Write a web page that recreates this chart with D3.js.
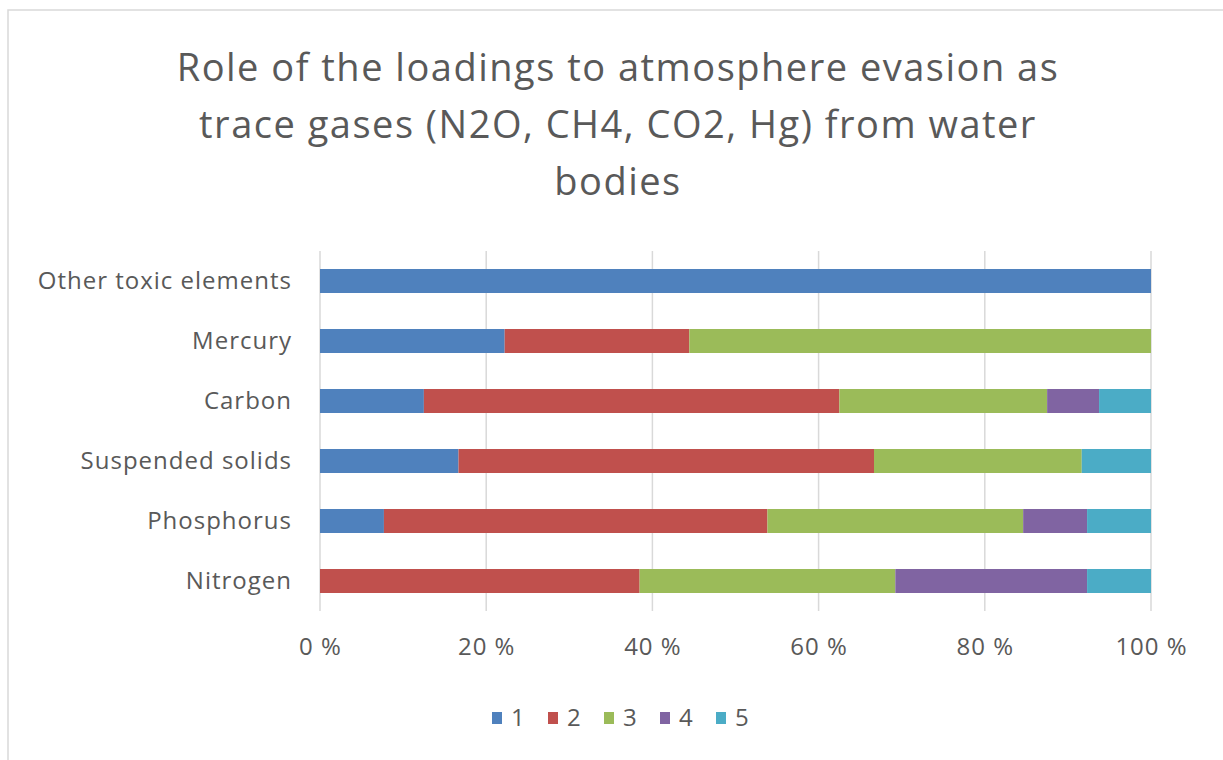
<!DOCTYPE html>
<html><head><meta charset="utf-8">
<script src="https://cdn.jsdelivr.net/npm/d3@7"></script>
<style>body{margin:0;background:#fff;} text{font-family:"Open Sans","Noto Sans",sans-serif;}</style>
</head><body>
<svg id="c" width="1223" height="760"></svg>
<script>
const categories = ["Other toxic elements","Mercury","Carbon","Suspended solids","Phosphorus","Nitrogen"];
const seriesNames = ["1","2","3","4","5"];
const s1 = [1,2,2,2,1,0];
const s2 = [0,2,8,6,6,5];
const s3 = [0,5,4,3,4,4];
const s4 = [0,0,1,0,1,3];
const s5 = [0,0,1,1,1,1];
const tickValues = [0,0.2,0.4,0.6,0.8,1];
const tickLabels = ["0 %","20 %","40 %","60 %","80 %","100 %"];
const titleLines = ["Role of the loadings to atmosphere evasion as","trace gases (N2O, CH4, CO2, Hg) from water","bodies"];
const colors = ["#4f81bd","#c0504d","#9bbb59","#8064a2","#4bacc6"];

const all = [s1,s2,s3,s4,s5];
const rows = categories.map((c,i)=>{const o={cat:c}; seriesNames.forEach((s,j)=>o[s]=all[j][i]); return o;});
const stack = d3.stack().keys(seriesNames).offset(d3.stackOffsetExpand);
const layers = stack(rows);

const svg = d3.select("#c");
svg.append("rect").attr("x",8).attr("y",10).attr("width",1230).attr("height",770)
  .attr("fill","#fff").attr("stroke","#d9d9d9").attr("stroke-width",1.5);

const x = d3.scaleLinear().domain([0,1]).range([320,1151]);
const y = d3.scaleBand().domain(categories).range([251,611]).paddingInner(0.6).paddingOuter(0.3);

svg.append("g").selectAll("line").data(tickValues).join("line")
  .attr("x1",d=>x(d)).attr("x2",d=>x(d)).attr("y1",251).attr("y2",611)
  .attr("stroke","#d9d9d9").attr("stroke-width",1.5);

svg.append("g").selectAll("g").data(layers).join("g")
  .attr("fill",(d,i)=>colors[i])
  .selectAll("rect").data(d=>d).join("rect")
  .attr("x",d=>x(d[0])).attr("width",d=>Math.max(0,x(d[1])-x(d[0])))
  .attr("y",d=>y(d.data.cat)).attr("height",y.bandwidth());

const xa = d3.axisBottom(x).tickValues(tickValues).tickFormat((d,i)=>tickLabels[i]).tickSize(0).tickPadding(0);
const gx = svg.append("g").attr("transform","translate(0,638)").call(xa);
gx.select(".domain").remove();
gx.selectAll("text").attr("fill","#595959").style("font-size","24px").style("letter-spacing","1px").attr("dy","0.71em");

const ya = d3.axisLeft(y).tickSize(0).tickPadding(0);
const gy = svg.append("g").attr("transform","translate(292,0)").call(ya);
gy.select(".domain").remove();
gy.selectAll("text").attr("fill","#595959").style("font-size","24px").style("letter-spacing","1px");

svg.append("g").selectAll("text").data(titleLines).join("text")
  .attr("x",618).attr("y",(d,i)=>81+i*57).attr("text-anchor","middle")
  .attr("fill","#595959").style("font-size","38px").style("letter-spacing","1.5px").text(d=>d);

const lg = svg.append("g").selectAll("g").data(seriesNames).join("g")
  .attr("transform",(d,i)=>`translate(${492+i*56},718)`);
lg.append("rect").attr("x",0).attr("y",-6).attr("width",10).attr("height",12).attr("fill",(d,i)=>colors[i]);
lg.append("text").attr("x",19).attr("y",0).attr("dy","0.35em").attr("fill","#595959").style("font-size","24px").text(d=>d);
</script>
</body></html>
